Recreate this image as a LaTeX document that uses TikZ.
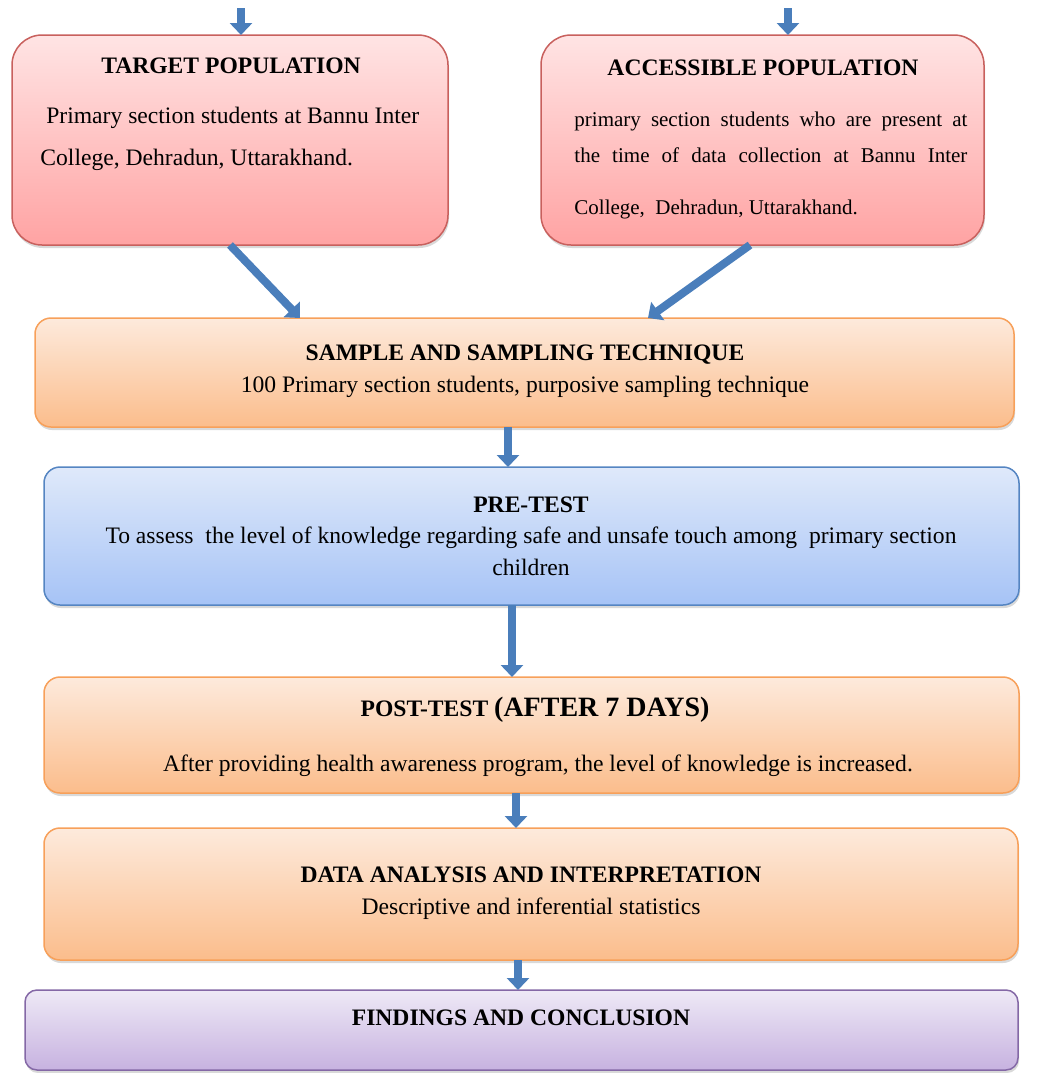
\documentclass[tikz,border=0pt]{standalone}
\usepackage{fontspec}
\setmainfont{Liberation Serif}
\usetikzlibrary{arrows.meta,shadows}
\definecolor{poptop}{HTML}{FFE4E4}
\definecolor{popbot}{HTML}{FFA3A3}
\definecolor{popline}{HTML}{C8605D}
\definecolor{stagetop}{HTML}{FDEADC}
\definecolor{stagebot}{HTML}{FBBD8C}
\definecolor{stageline}{HTML}{F7A05A}
\definecolor{pretop}{HTML}{DFE9FA}
\definecolor{prebot}{HTML}{A6C3F6}
\definecolor{preline}{HTML}{5585C2}
\definecolor{endtop}{HTML}{EEE9F6}
\definecolor{endbot}{HTML}{C7B2E0}
\definecolor{endline}{HTML}{8468A6}
\definecolor{flowblue}{HTML}{4A7EBB}
\tikzset{every picture/.style={line width=0.75pt}}

\begin{document}
\begin{tikzpicture}[x=0.5pt, y=-0.5pt, font=\fontsize{11.8}{14}\selectfont,
		box/.style={inner sep=0pt, outer sep=0pt, drop shadow={shadow xshift=0.5pt, shadow yshift=-1.5pt, opacity=0.3}},
		popbox/.style={box, draw=popline, top color=poptop, bottom color=popbot, rounded corners=15pt, minimum height=105pt},
		stagebox/.style={box, draw=stageline, top color=stagetop, bottom color=stagebot, rounded corners=8pt},
		prebox/.style={box, draw=preline, top color=pretop, bottom color=prebot, rounded corners=8pt},
		endbox/.style={box, draw=endline, top color=endtop, bottom color=endbot, rounded corners=6pt},
		title/.style={font=\fontsize{11.8}{14}\selectfont\bfseries},
		flow/.style={draw=flowblue, line width=4pt, -{Triangle[width=11pt,length=6pt]}}]
	\useasboundingbox (0,0) rectangle (1056,1073);
	\node[popbox, minimum width=218pt] (target) at (230,140) {};
	\node[popbox, minimum width=221.5pt] (access) at (762.5,140) {};
	\node[stagebox, minimum width=489.5pt, minimum height=54.5pt] (sample) at (524.5,372.5) {};
	\node[prebox, minimum width=487.5pt, minimum height=69pt] (pretest) at (531.5,536) {};
	\node[stagebox, minimum width=487.5pt, minimum height=58pt] (posttest) at (531.5,735) {};
	\node[stagebox, minimum width=487pt, minimum height=66pt] (analysis) at (531,894) {};
	\node[endbox, minimum width=496.5pt, minimum height=40pt] (findings) at (521.5,1030) {};

	\node[title] (targetT) at (231,66) {TARGET POPULATION};
	\node[anchor=west, align=left, font=\fontsize{11.8}{21}\selectfont] (targetB) at (33,139) {\ Primary section students at Bannu Inter\\College, Dehradun, Uttarakhand.};
	\node[title] (accessT) at (763,68) {ACCESSIBLE POPULATION};
	\node[anchor=west, align=left, font=\fontsize{10.5}{18}\selectfont] (accessB) at (567,165) {\makebox[196.5pt][s]{primary section students who are present at}\\\makebox[196.5pt][s]{the time of data collection at Bannu Inter}\\[8pt]College,\ \ Dehradun, Uttarakhand.};
	\node[title] (sampleT) at (525,355) {SAMPLE AND SAMPLING TECHNIQUE};
	\node (sampleB) at (525,387) {100 Primary section students, purposive sampling technique};
	\node[title] (pretestT) at (531,505) {PRE-TEST};
	\node[align=center, font=\fontsize{11.8}{16}\selectfont] (pretestB) at (531,551) {To assess\ \ the level of knowledge regarding safe and unsafe touch among\ \ primary section\\children};
	\node (posttestT) at (535,710) {\bfseries POST-TEST \fontsize{14}{16}\selectfont(AFTER 7 DAYS)};
	\node (posttestB) at (538,766) {After providing health awareness program, the level of knowledge is increased.};
	\node[title] (analysisT) at (531,875) {DATA ANALYSIS AND INTERPRETATION};
	\node (analysisB) at (531,909) {Descriptive and inferential statistics};
	\node[title] (findingsT) at (521,1018) {FINDINGS AND CONCLUSION};

	\path (241,8) coordinate (inL)
		(788,8) coordinate (inR)
		(300,0) coordinate (dL)
		(750,0) coordinate (sR)
		(648,0) coordinate (dR)
		(508,0) coordinate (a1)
		(512,0) coordinate (a2)
		(516,0) coordinate (a3)
		(518,0) coordinate (a4);
	\draw[flow] (inL) -- (target.north -| inL);
	\draw[flow] (inR) -- (access.north -| inR);
	\draw[flow] (target.south) -- (sample.north -| dL);
	\draw[flow] (access.south -| sR) -- (sample.north -| dR);
	\draw[flow] (sample.south -| a1) -- (pretest.north -| a1);
	\draw[flow] (pretest.south -| a2) -- (posttest.north -| a2);
	\draw[flow] (posttest.south -| a3) -- (analysis.north -| a3);
	\draw[flow] (analysis.south -| a4) -- (findings.north -| a4);
\end{tikzpicture}
\end{document}
